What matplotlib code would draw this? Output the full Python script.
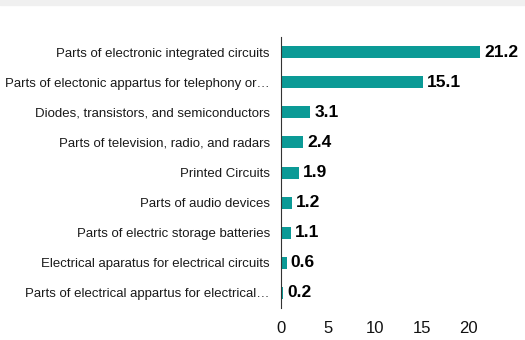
import matplotlib.pyplot as plt
from matplotlib.patches import Rectangle

plt.rcParams['font.family'] = ['Liberation Sans', 'DejaVu Sans']

BAR_COLOR = "#0b9a96"

categories = [
    "Parts of electronic integrated circuits",
    "Parts of electonic appartus for telephony or\u2026",
    "Diodes, transistors, and semiconductors",
    "Parts of television, radio, and radars",
    "Printed Circuits",
    "Parts of audio devices",
    "Parts of electric storage batteries",
    "Electrical aparatus for electrical circuits",
    "Parts of electrical appartus for electrical\u2026",
]
values = [21.2, 15.1, 3.1, 2.4, 1.9, 1.2, 1.1, 0.6, 0.2]
xticks = [0, 5, 10, 15, 20]

fig = plt.figure(figsize=(5.25, 3.4), dpi=100)
# grey strip of the cut-off header at the top
fig.patches.append(Rectangle((0, 0.985), 1, 0.015, transform=fig.transFigure,
                             color="#f0f0f0", zorder=0))

ax = fig.add_axes([0.535, 0.094, 0.465, 0.797])
pos = list(range(len(categories)))[::-1]
ax.barh(pos, values, height=0.4, color=BAR_COLOR)

for y, v in zip(pos, values):
    ax.annotate(f"{v}", (v, y), xytext=(3, 0), textcoords="offset points",
                va="center", ha="left", fontsize=12.5, fontweight="bold")

ax.set_yticks(pos)
ax.set_yticklabels(categories, fontsize=9.5, color="#1a1a1a")
ax.set_xticks(xticks)
ax.set_xticklabels([str(t) for t in xticks], fontsize=12, color="#111111")
ax.set_xlim(0, 26)
ax.set_ylim(-0.5, len(categories) - 0.5)
ax.tick_params(axis="both", length=0)
ax.tick_params(axis="x", pad=9)
ax.tick_params(axis="y", pad=8)

for s in ["top", "right", "bottom"]:
    ax.spines[s].set_visible(False)
ax.spines["left"].set_color("#333333")

fig.savefig("out.png", dpi=100)
